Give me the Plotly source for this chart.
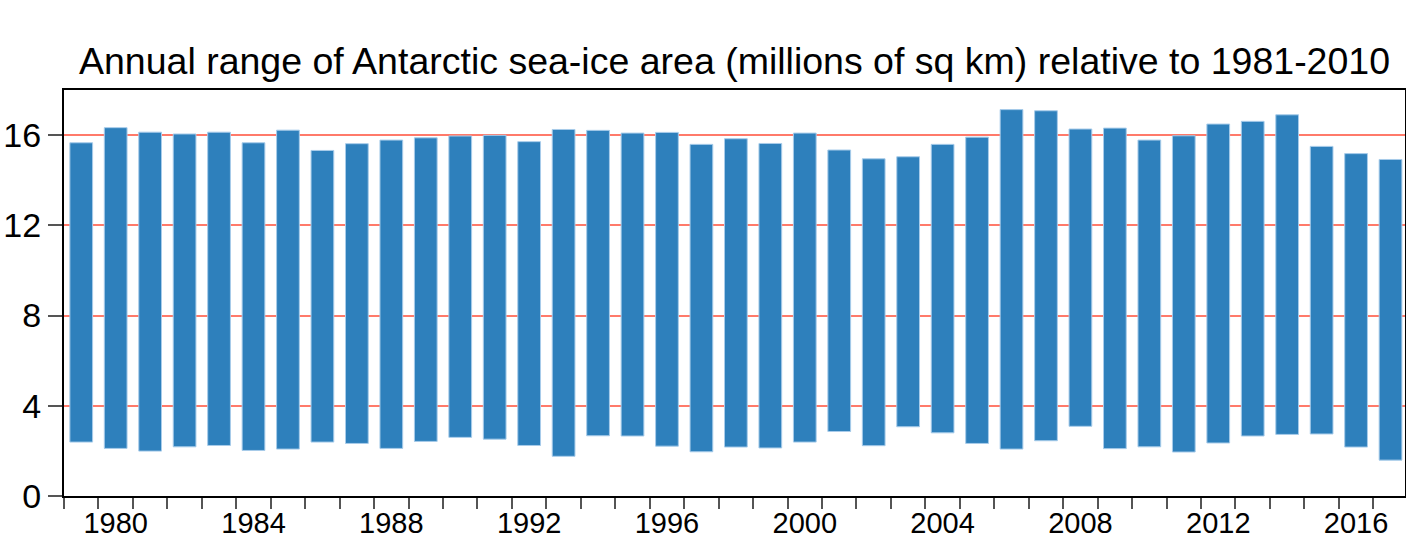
import plotly.graph_objects as go

# Antarctic sea-ice area, annual maximum and minimum (millions of sq km)
years = list(range(1979, 2018))
annual_max = [15.66, 16.33, 16.13, 16.05, 16.13, 15.66, 16.22, 15.32, 15.62, 15.78,
              15.88, 15.96, 15.99, 15.71, 16.25, 16.21, 16.09, 16.12, 15.59, 15.84,
              15.63, 16.09, 15.34, 14.95, 15.04, 15.59, 15.91, 17.13, 17.08, 16.27,
              16.31, 15.78, 15.97, 16.49, 16.61, 16.90, 15.50, 15.18, 14.92]
annual_min = [2.39, 2.11, 1.99, 2.18, 2.24, 2.02, 2.08, 2.39, 2.33, 2.11,
              2.42, 2.60, 2.52, 2.24, 1.76, 2.67, 2.66, 2.21, 1.96, 2.17,
              2.13, 2.39, 2.86, 2.23, 3.07, 2.80, 2.33, 2.08, 2.45, 3.09,
              2.10, 2.18, 1.95, 2.35, 2.66, 2.73, 2.75, 2.17, 1.59]
year_labels = list(range(1980, 2017, 4))
y_ticks = [0, 4, 8, 12, 16]

title_text = "Annual range of Antarctic sea-ice area (millions of sq km) relative to 1981-2010"

span = [hi - lo for hi, lo in zip(annual_max, annual_min)]

FONT = "Liberation Sans, Arial, Helvetica, sans-serif"

fig = go.Figure(
    go.Bar(
        x=years,
        y=span,
        base=annual_min,
        width=0.66,
        marker=dict(color="#2E80BC", line=dict(color="#A8CCEA", width=1)),
        hoverinfo="skip",
    )
)

fig.update_layout(
    width=1406,
    height=540,
    margin=dict(l=64, r=1, t=90, b=44),
    paper_bgcolor="white",
    plot_bgcolor="white",
    showlegend=False,
    font=dict(family=FONT, color="black"),
    title=dict(
        text=title_text,
        font=dict(family=FONT, size=37.5, color="black"),
        x=0.5,
        xref="paper",
        xanchor="center",
        y=1 - 61 / 540,
        yref="container",
        yanchor="middle",
    ),
)

fig.update_xaxes(
    range=[1978.5, 2017.42],
    tickmode="array",
    tickvals=year_labels,
    ticktext=[str(v) for v in year_labels],
    ticks="",
    tickfont=dict(family=FONT, size=29, color="black"),
    minor=dict(ticks="outside", tickmode="linear", tick0=1978.5, dtick=1,
               ticklen=11, tickwidth=1.5, tickcolor="#555555", showgrid=False),
    showgrid=False,
    zeroline=False,
    showline=True,
    linecolor="black",
    linewidth=2,
    mirror=True,
    automargin=False,
)

fig.update_yaxes(
    range=[0, 18],
    tickmode="array",
    tickvals=y_ticks,
    ticktext=[str(v) for v in y_ticks],
    ticks="outside",
    ticklen=14,
    tickwidth=1.5,
    tickcolor="#555555",
    tickfont=dict(family=FONT, size=34, color="black"),
    showgrid=True,
    gridcolor="#FF7A6A",
    gridwidth=1.5,
    zeroline=False,
    showline=True,
    linecolor="black",
    linewidth=2,
    mirror=True,
    automargin=False,
)

fig.write_html("out.html")
